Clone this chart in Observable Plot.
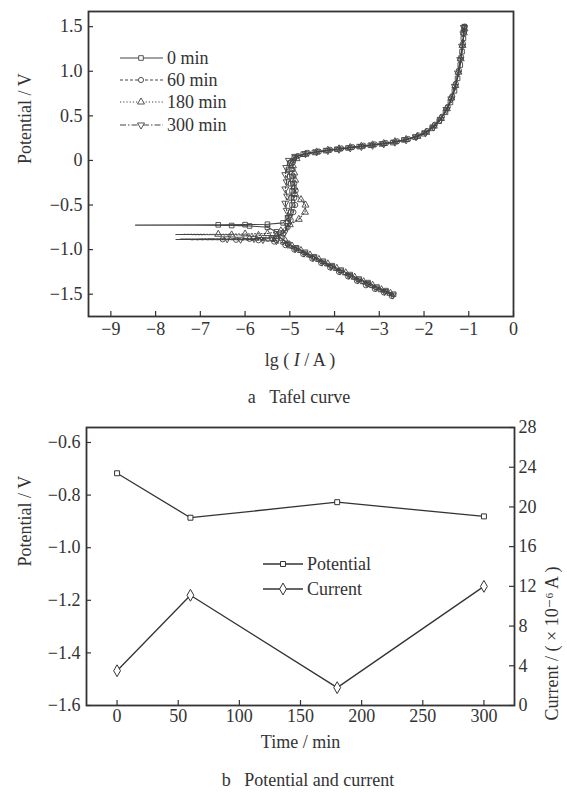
<!DOCTYPE html>
<html><head><meta charset="utf-8">
<script src="https://cdn.jsdelivr.net/npm/d3@7"></script>
<script src="https://cdn.jsdelivr.net/npm/@observablehq/plot@0.6"></script>
<style>
html,body{margin:0;padding:0;background:#fff;}
#wrap{position:relative;width:567px;height:793px;font-family:"Liberation Serif","DejaVu Serif",serif;color:#333;overflow:hidden;background:#fff;}
.cap{position:absolute;font-size:18px;white-space:nowrap;transform:translate(-50%,-50%);color:#333;}
</style></head><body><div id="wrap"></div>
<script>
// ---------- data: Tafel curves  [lg(I/A), potential V] ----------
const tafelSeries = ["0 min", "60 min", "180 min", "300 min"];
const tafel0 = [[-2.68,-1.50],[-2.85,-1.46],[-3.05,-1.42],[-3.25,-1.37],[-3.45,-1.33],[-3.65,-1.28],[-3.85,-1.23],[-4.05,-1.18],[-4.25,-1.13],[-4.45,-1.08],[-4.65,-1.03],[-4.85,-0.98],[-5.05,-0.93],[-5.2,-0.87],[-5.3,-0.80],[-5.5,-0.75],[-5.9,-0.735],[-6.3,-0.73],[-7.1,-0.727],[-8.45,-0.725],[-6.6,-0.722],[-6.0,-0.72],[-5.5,-0.715],[-5.15,-0.70],[-5.05,-0.65],[-4.98,-0.58],[-4.95,-0.50],[-4.97,-0.42],[-4.95,-0.34],[-4.98,-0.26],[-5.0,-0.18],[-5.02,-0.10],[-5.0,-0.03],[-4.9,0.03],[-4.7,0.07],[-4.45,0.09],[-4.2,0.11],[-3.95,0.125],[-3.7,0.14],[-3.45,0.155],[-3.2,0.17],[-2.95,0.185],[-2.7,0.20],[-2.45,0.23],[-2.2,0.26],[-2.0,0.30],[-1.82,0.36],[-1.66,0.44],[-1.52,0.54],[-1.41,0.65],[-1.32,0.78],[-1.25,0.92],[-1.19,1.07],[-1.15,1.22],[-1.12,1.37],[-1.1,1.50]];
const tafel60 = [[-2.72,-1.52],[-2.9,-1.48],[-3.1,-1.44],[-3.3,-1.40],[-3.5,-1.35],[-3.7,-1.30],[-3.9,-1.25],[-4.1,-1.20],[-4.3,-1.15],[-4.5,-1.10],[-4.7,-1.05],[-4.9,-1.00],[-5.1,-0.95],[-5.35,-0.91],[-5.7,-0.895],[-6.2,-0.89],[-6.85,-0.888],[-7.55,-0.887],[-6.5,-0.885],[-5.9,-0.88],[-5.4,-0.87],[-5.15,-0.82],[-5.05,-0.75],[-4.98,-0.67],[-4.92,-0.58],[-4.88,-0.50],[-4.9,-0.42],[-4.87,-0.34],[-4.9,-0.26],[-4.92,-0.18],[-4.94,-0.10],[-4.93,-0.02],[-4.82,0.05],[-4.6,0.085],[-4.35,0.10],[-4.1,0.12],[-3.85,0.135],[-3.6,0.15],[-3.35,0.165],[-3.1,0.18],[-2.85,0.195],[-2.6,0.215],[-2.35,0.24],[-2.12,0.28],[-1.93,0.33],[-1.76,0.40],[-1.6,0.49],[-1.47,0.60],[-1.37,0.72],[-1.29,0.86],[-1.22,1.01],[-1.17,1.16],[-1.13,1.31],[-1.1,1.45],[-1.09,1.50]];
const tafel180 = [[-2.75,-1.49],[-2.95,-1.45],[-3.15,-1.40],[-3.35,-1.36],[-3.55,-1.31],[-3.75,-1.26],[-3.95,-1.21],[-4.15,-1.16],[-4.35,-1.11],[-4.55,-1.06],[-4.75,-1.01],[-4.95,-0.96],[-5.1,-0.90],[-5.3,-0.85],[-5.7,-0.84],[-6.3,-0.835],[-7.0,-0.832],[-7.55,-0.83],[-6.6,-0.828],[-6.0,-0.825],[-5.5,-0.82],[-5.2,-0.79],[-5.0,-0.72],[-4.8,-0.66],[-4.66,-0.58],[-4.65,-0.50],[-4.75,-0.44],[-4.88,-0.38],[-4.9,-0.30],[-4.88,-0.22],[-4.9,-0.14],[-4.93,-0.06],[-4.85,0.02],[-4.65,0.07],[-4.4,0.095],[-4.15,0.115],[-3.9,0.13],[-3.65,0.145],[-3.4,0.16],[-3.15,0.175],[-2.9,0.19],[-2.65,0.21],[-2.4,0.235],[-2.15,0.27],[-1.95,0.315],[-1.78,0.385],[-1.62,0.47],[-1.49,0.58],[-1.39,0.70],[-1.3,0.84],[-1.23,0.99],[-1.18,1.14],[-1.14,1.29],[-1.11,1.43],[-1.1,1.48]];
const tafel300 = [[-2.7,-1.51],[-2.88,-1.47],[-3.08,-1.43],[-3.28,-1.38],[-3.48,-1.34],[-3.68,-1.29],[-3.88,-1.24],[-4.08,-1.19],[-4.28,-1.14],[-4.48,-1.09],[-4.68,-1.04],[-4.88,-0.99],[-5.05,-0.94],[-5.3,-0.90],[-5.6,-0.888],[-6.1,-0.884],[-6.8,-0.882],[-7.45,-0.881],[-6.4,-0.879],[-5.8,-0.876],[-5.35,-0.865],[-5.12,-0.81],[-5.05,-0.73],[-5.03,-0.64],[-5.07,-0.56],[-5.1,-0.48],[-5.06,-0.40],[-5.1,-0.32],[-5.07,-0.24],[-5.1,-0.16],[-5.08,-0.08],[-5.02,0.0],[-4.88,0.045],[-4.65,0.075],[-4.4,0.095],[-4.15,0.11],[-3.9,0.125],[-3.65,0.14],[-3.4,0.155],[-3.15,0.17],[-2.9,0.185],[-2.65,0.205],[-2.4,0.23],[-2.18,0.265],[-1.97,0.31],[-1.79,0.375],[-1.63,0.46],[-1.5,0.57],[-1.39,0.69],[-1.31,0.83],[-1.24,0.98],[-1.19,1.13],[-1.15,1.28],[-1.12,1.42],[-1.11,1.49]];
const tafelData = [tafel0, tafel60, tafel180, tafel300];
const tafelXTicks = [-9, -8, -7, -6, -5, -4, -3, -2, -1, 0];
const tafelYTicks = [-1.5, -1.0, -0.5, 0, 0.5, 1.0, 1.5];

// ---------- data: potential and current vs time ----------
const seriesNames = ["Potential", "Current"];
const times = [0, 60, 180, 300];
const potential = [-0.717, -0.886, -0.827, -0.881];
const current = [3.5, 11.1, 1.8, 12.0];
const timeTicks = [0, 50, 100, 150, 200, 250, 300];
const potTicks = [-1.6, -1.4, -1.2, -1.0, -0.8, -0.6];
const curTicks = [0, 4, 8, 12, 16, 20, 24, 28];

// ---------- styles ----------
const ink = "#333";
const sqrt3 = Math.sqrt(3);
const triDown = {draw(ctx, size) {
  const y = -Math.sqrt(size / (sqrt3 * 3));
  ctx.moveTo(0, -y * 2); ctx.lineTo(-sqrt3 * y, y); ctx.lineTo(sqrt3 * y, y); ctx.closePath();
}};
const tafelSymbols = ["square", "circle", "triangle", triDown];
const tafelD3Symbols = [d3.symbolSquare, d3.symbolCircle, d3.symbolTriangle, triDown];
const tafelDash = [null, "3,2", "1.2,2", "6,2,1.5,2"];
const minus = s => String(s).replace("-", "\u2212");
const fmt1 = d => d === 0 ? "0" : minus(d.toFixed(1));

const wrap = document.getElementById("wrap");
const font = {fontFamily: "Liberation Serif, DejaVu Serif, serif", fontSize: "18px", color: ink, background: "transparent", overflow: "visible"};

// ---------- top chart ----------
const tH = 380, tMT = 11, tMB = 64, tML = 88, tMR = 54;
const tFrameH = tH - tMT - tMB, tFrameW = 567 - tML - tMR;
const topPlot = Plot.plot({
  width: 567, height: tH,
  marginTop: tMT, marginBottom: tMB, marginLeft: tML, marginRight: tMR,
  style: font,
  x: {domain: [-9.5, 0]},
  y: {domain: [-1.75, 1.67]},
  marks: [
    ...tafelData.flatMap((s, i) => [
      Plot.line(s, {x: d => d[0], y: d => d[1], stroke: "#444", strokeWidth: 1.1, strokeDasharray: tafelDash[i]}),
      Plot.dot(s, {filter: d => d[0] > -6.7, x: d => d[0], y: d => d[1], symbol: tafelSymbols[i], r: 2.6, stroke: "#444", strokeWidth: 0.9, fill: "none"})
    ]),
    Plot.axisX(tafelXTicks, {anchor: "bottom", tickSize: 0, tickPadding: 6, tickFormat: minus, label: null, fontSize: 18}),
    Plot.axisY(tafelYTicks, {anchor: "left", tickSize: 0, tickPadding: 6, tickFormat: fmt1, label: null, fontSize: 18}),
    Plot.ruleX(tafelXTicks, {x: d => d, insetTop: tFrameH - 5, stroke: ink, strokeWidth: 1.2}),
    Plot.ruleY(tafelYTicks, {y: d => d, insetRight: tFrameW - 5, stroke: ink, strokeWidth: 1.2}),
    Plot.frame({stroke: ink, strokeWidth: 1.8}),
    Plot.text(["Potential / V"], {frameAnchor: "left", dx: -63, rotate: -90, fontSize: 18, fill: ink})
  ]
});
topPlot.style.position = "absolute"; topPlot.style.left = "0px"; topPlot.style.top = "0px";
wrap.appendChild(topPlot);

// ---------- bottom chart ----------
const bTop = 410, bH = 345, bMT = 17, bMB = 50, bML = 86, bMR = 53;
const bFrameH = bH - bMT - bMB, bFrameW = 567 - bML - bMR;
const curToPot = d3.scaleLinear([0, 28], [-1.6, -0.543]);
const rows = times.map((t, i) => ({t, p: potential[i], c: current[i]}));
const bottomPlot = Plot.plot({
  width: 567, height: bH,
  marginTop: bMT, marginBottom: bMB, marginLeft: bML, marginRight: bMR,
  style: font,
  x: {domain: [-25, 325]},
  y: {domain: [-1.6, -0.543]},
  marks: [
    Plot.line(rows, {x: "t", y: "p", stroke: ink, strokeWidth: 1.3}),
    Plot.dot(rows, {x: "t", y: "p", symbol: "square", r: 2.8, stroke: ink, strokeWidth: 1, fill: "white"}),
    Plot.line(rows, {x: "t", y: d => curToPot(d.c), stroke: ink, strokeWidth: 1.3}),
    Plot.dot(rows, {x: "t", y: d => curToPot(d.c), symbol: "diamond", r: 3.6, stroke: ink, strokeWidth: 1, fill: "white"}),
    Plot.axisX(timeTicks, {anchor: "bottom", tickSize: 0, tickPadding: 4, label: null, fontSize: 18}),
    Plot.axisY(potTicks, {anchor: "left", tickSize: 0, tickPadding: 6, tickFormat: d => minus(d.toFixed(1)), label: null, fontSize: 18}),
    Plot.axisY(curTicks.map(c => curToPot(c)), {anchor: "right", tickSize: 0, tickPadding: 4, tickFormat: d => String(Math.round(curToPot.invert(d))), label: null, fontSize: 18}),
    Plot.ruleX(timeTicks, {x: d => d, insetTop: bFrameH - 5, stroke: ink, strokeWidth: 1.2}),
    Plot.ruleY(potTicks, {y: d => d, insetRight: bFrameW - 5, stroke: ink, strokeWidth: 1.2}),
    Plot.ruleY(curTicks, {y: d => curToPot(d), insetLeft: bFrameW - 5, stroke: ink, strokeWidth: 1.2}),
    Plot.frame({stroke: ink, strokeWidth: 1.8}),
    Plot.text(["Potential / V"], {frameAnchor: "left", dx: -61, rotate: -90, fontSize: 18, fill: ink}),
    Plot.text(["Current / ( \u00d7 10\u207b\u2076 A )"], {frameAnchor: "right", dx: 38, rotate: -90, fontSize: 18, fill: ink}),
    Plot.text(["Time / min"], {frameAnchor: "bottom", dy: 42, fontSize: 18, fill: ink})
  ]
});
bottomPlot.style.position = "absolute"; bottomPlot.style.left = "0px"; bottomPlot.style.top = bTop + "px";
wrap.appendChild(bottomPlot);

// ---------- captions ----------
function cap(html, x, y) {
  const d = document.createElement("div");
  d.className = "cap"; d.innerHTML = html;
  d.style.left = x + "px"; d.style.top = y + "px";
  wrap.appendChild(d);
}
cap("lg ( <i>I</i> / A )", 300, 360);
cap("a&nbsp;&nbsp;&nbsp;Tafel curve", 299, 397);
cap("b&nbsp;&nbsp;&nbsp;Potential and current", 308, 780);

// ---------- legends ----------
const lg = d3.select(wrap).append("svg")
  .attr("width", 567).attr("height", 793)
  .style("position", "absolute").style("left", 0).style("top", 0).style("pointer-events", "none")
  .style("font-family", "Liberation Serif, DejaVu Serif, serif").style("font-size", "18px");
const topRows = [58, 80, 102, 125];
tafelSeries.forEach((name, i) => {
  const y = topRows[i];
  lg.append("line").attr("x1", 120).attr("x2", 163).attr("y1", y).attr("y2", y)
    .attr("stroke", "#444").attr("stroke-width", 1.1).attr("stroke-dasharray", tafelDash[i]);
  lg.append("path").attr("transform", `translate(141,${y})`)
    .attr("d", d3.symbol(tafelD3Symbols[i], Math.PI * 2.6 * 2.6)())
    .attr("fill", "white").attr("stroke", "#444").attr("stroke-width", 0.9);
  lg.append("text").attr("x", 167).attr("y", y).attr("dy", "0.35em").attr("fill", ink).text(name);
});
const botRows = [564, 589];
const botSyms = [d3.symbolSquare, d3.symbolDiamond];
const botR = [2.8, 3.6];
seriesNames.forEach((name, i) => {
  const y = botRows[i];
  lg.append("line").attr("x1", 263).attr("x2", 303).attr("y1", y).attr("y2", y)
    .attr("stroke", ink).attr("stroke-width", 1.3);
  lg.append("path").attr("transform", `translate(283,${y})`)
    .attr("d", d3.symbol(botSyms[i], Math.PI * botR[i] * botR[i])())
    .attr("fill", "white").attr("stroke", ink).attr("stroke-width", 1);
  lg.append("text").attr("x", 307).attr("y", y).attr("dy", "0.35em").attr("fill", ink).text(name);
});
</script>
</body></html>
